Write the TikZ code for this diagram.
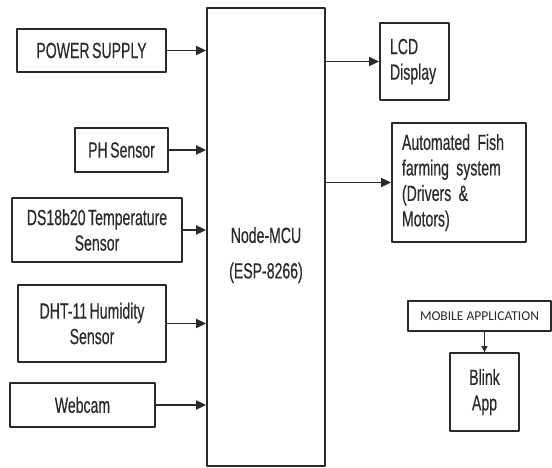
\documentclass[tikz,border=0pt]{standalone}
\usepackage{fontspec}
\usetikzlibrary{arrows.meta,calc}
\newfontfamily\condfont[FakeStretch=0.64,FakeBold=0.4,WordSpace=0.65]{Liberation Sans}
\newfontfamily\appfont{Carlito}
\definecolor{ink}{HTML}{2A2A2A}

\begin{document}
\begin{tikzpicture}[x=1pt,y=-1pt,>={Triangle[length=10pt,width=9pt]},
  line cap=round,line join=round,
  font=\condfont\fontsize{22}{25.5}\selectfont,
  blk/.style={draw=ink,line width=1.8pt,text=ink,inner sep=0pt,align=center},
  lblk/.style={blk,align=left,inner xsep=10pt},
  link/.style={->,ink,line width=1.8pt}]
  \useasboundingbox (0,0) rectangle (552,468);

  % controller
  \node[blk,minimum width=118,minimum height=458] (mcu) at (266,237) {};
  \node[text=ink,align=center] (mcutext) at (266,255)
    {Node-MCU\\[10pt](ESP-8266)};

  % inputs
  \node[blk,minimum width=149,minimum height=43] (power) at (91.5,50.5)
    {POWER SUPPLY};
  \node[blk,minimum width=93,minimum height=44] (ph) at (121.5,150)
    {PH Sensor};
  \node[blk,minimum width=170,minimum height=64] (temp) at (97,230)
    {DS18b20 Temperature\\Sensor};
  \node[blk,minimum width=148,minimum height=77] (humid) at (92,323.5)
    {DHT-11 Humidity\\Sensor};
  \node[blk,minimum width=145,minimum height=44] (cam) at (82.5,405)
    {Webcam};

  % outputs
  \node[lblk,text width=49,minimum height=77] (lcd) at (414.5,61.5)
    {LCD\\Display};
  \node[lblk,text width=114,minimum height=119] (fish) at (459,182.5)
    {Automated Fish\\farming system\\(Drivers \&\\Motors)};

  % mobile side
  \node[blk,minimum width=143,minimum height=30,
    font=\appfont\fontsize{13.5}{15}\selectfont] (mobile) at (479.5,316)
    {MOBILE APPLICATION};
  \node[blk,minimum width=69,minimum height=78] (blink) at (484.5,392)
    {Blink\\App};

  \foreach \src in {power,ph,temp,humid,cam}
    \draw[link] (\src.east) -- (\src.east -| mcu.west);
  \draw[link] (mcu.east |- lcd.west) -- (lcd.west);
  \draw[link] (mcu.east |- fish.west) -- (fish.west);
  \draw[->,ink,line width=1.2pt,>={Triangle[length=6pt,width=6pt]}]
    (mobile.south -| blink.north) -- (blink.north);
\end{tikzpicture}
\end{document}
